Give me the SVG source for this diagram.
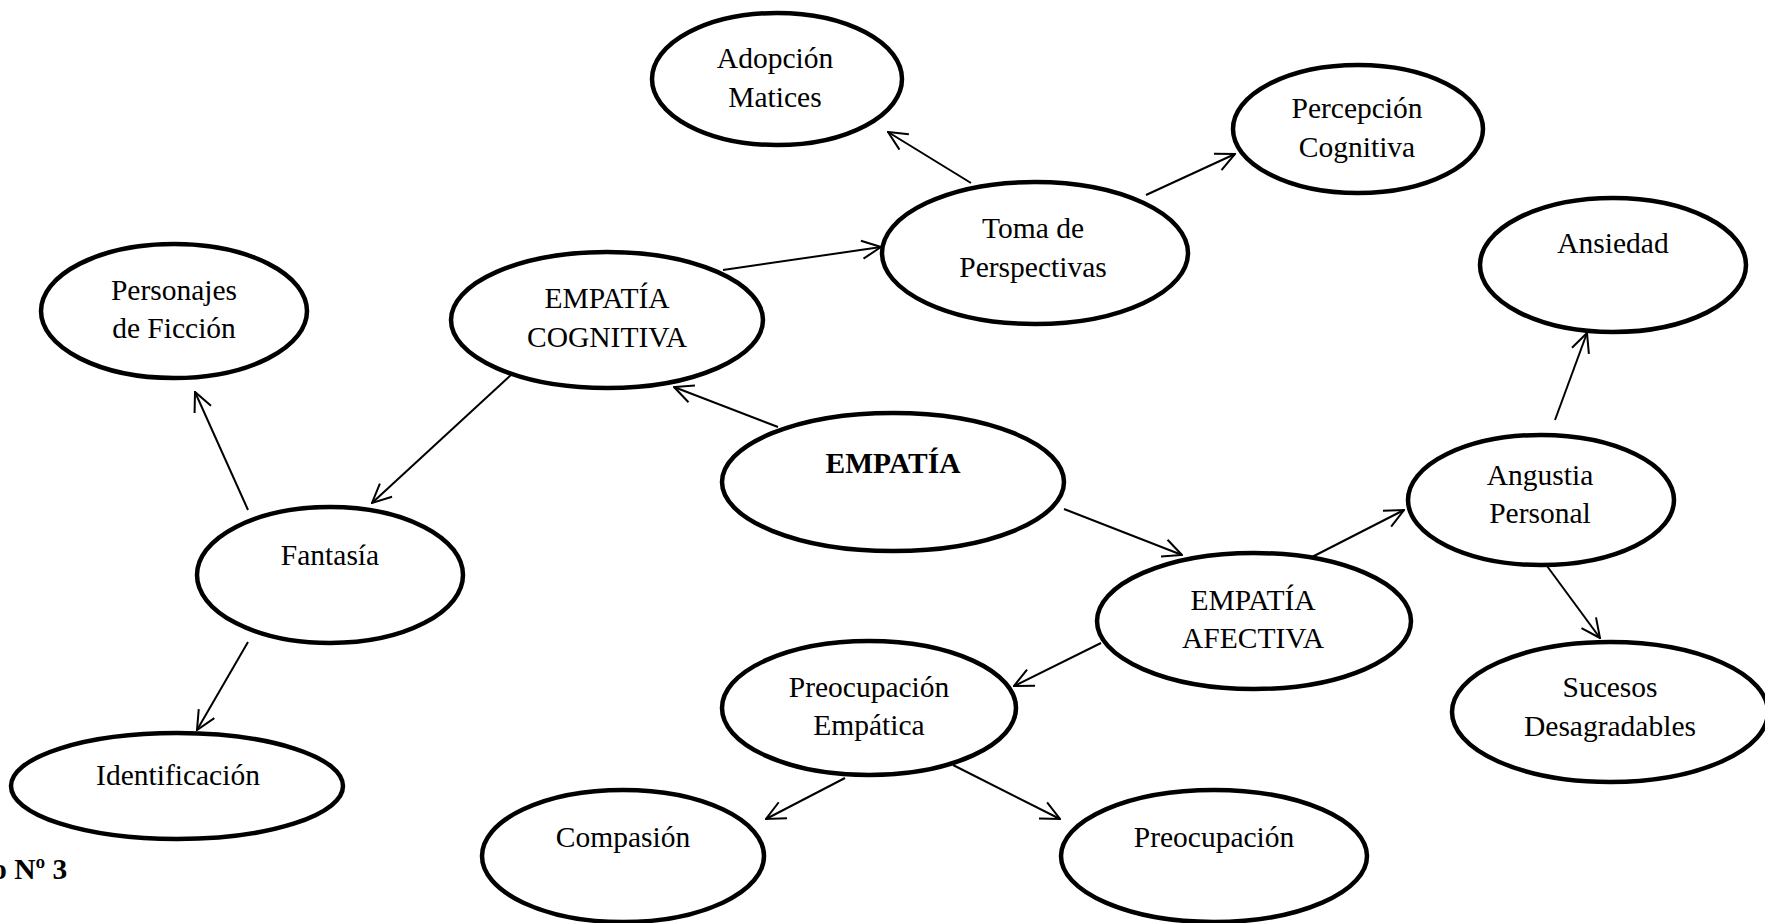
<svg xmlns="http://www.w3.org/2000/svg" width="1765" height="923" viewBox="0 0 1765 923">
<style>
.n ellipse{fill:#fff;stroke:#000;stroke-width:4.5}
text{font-family:"Liberation Serif","Times New Roman",serif;font-size:29.5px;fill:#000;text-anchor:middle}
.b{font-weight:bold}
#edges line{stroke:#000;stroke-width:2;marker-end:url(#ah)}
</style>
<defs>
<marker id="ah" viewBox="0 0 22 22" refX="21" refY="11" markerWidth="22" markerHeight="22" markerUnits="userSpaceOnUse" orient="auto">
<path d="M2,2 L21,11 L2,20" fill="none" stroke="#000" stroke-width="2"/>
</marker>
</defs>
<rect width="1765" height="923" fill="#fff"/>
<g id="edges">
<line x1="778" y1="427" x2="674" y2="387"/>
<line x1="1064" y1="509" x2="1182" y2="555"/>
<line x1="723" y1="270" x2="881" y2="247"/>
<line x1="511" y1="375" x2="372" y2="503"/>
<line x1="971" y1="183" x2="888" y2="132"/>
<line x1="1146" y1="195" x2="1235" y2="154"/>
<line x1="248" y1="510" x2="195" y2="392"/>
<line x1="248" y1="642" x2="197" y2="730"/>
<line x1="1312" y1="557" x2="1404" y2="510"/>
<line x1="1101" y1="643" x2="1014" y2="686"/>
<line x1="1555" y1="420" x2="1587" y2="333"/>
<line x1="1547" y1="566" x2="1600" y2="638"/>
<line x1="845" y1="778" x2="766" y2="819"/>
<line x1="953" y1="765" x2="1060" y2="819"/>
</g>
<g id="adopcion" class="n"><ellipse cx="777" cy="79" rx="125" ry="66"/><text x="775" y="68">Adopción</text><text x="775" y="107">Matices</text></g>
<g id="percepcion" class="n"><ellipse cx="1358" cy="129" rx="125" ry="64"/><text x="1357" y="118">Percepción</text><text x="1357" y="157">Cognitiva</text></g>
<g id="toma" class="n"><ellipse cx="1035" cy="253" rx="153" ry="71"/><text x="1033" y="238">Toma de</text><text x="1033" y="277">Perspectivas</text></g>
<g id="personajes" class="n"><ellipse cx="174" cy="311" rx="133" ry="67"/><text x="174" y="300">Personajes</text><text x="174" y="338">de Ficción</text></g>
<g id="cognitiva" class="n"><ellipse cx="607" cy="320" rx="156" ry="68"/><text x="607" y="308">EMPATÍA</text><text x="607" y="347">COGNITIVA</text></g>
<g id="ansiedad" class="n"><ellipse cx="1613" cy="265" rx="133" ry="67"/><text x="1613" y="253">Ansiedad</text></g>
<g id="empatia" class="n"><ellipse cx="893" cy="482" rx="171" ry="69"/><text class="b" x="893" y="473">EMPATÍA</text></g>
<g id="angustia" class="n"><ellipse cx="1541" cy="500" rx="133" ry="65"/><text x="1540" y="485">Angustia</text><text x="1540" y="523">Personal</text></g>
<g id="fantasia" class="n"><ellipse cx="330" cy="575" rx="133" ry="68"/><text x="330" y="565">Fantasía</text></g>
<g id="afectiva" class="n"><ellipse cx="1254" cy="621" rx="157" ry="68"/><text x="1253" y="610">EMPATÍA</text><text x="1253" y="648">AFECTIVA</text></g>
<g id="preocemp" class="n"><ellipse cx="869" cy="708" rx="147" ry="67"/><text x="869" y="697">Preocupación</text><text x="869" y="735">Empática</text></g>
<g id="sucesos" class="n"><ellipse cx="1610" cy="712" rx="158" ry="70"/><text x="1610" y="697">Sucesos</text><text x="1610" y="736">Desagradables</text></g>
<g id="identificacion" class="n"><ellipse cx="177" cy="786" rx="166" ry="53"/><text x="178" y="785">Identificación</text></g>
<g id="compasion" class="n"><ellipse cx="623" cy="856" rx="141" ry="66"/><text x="623" y="847">Compasión</text></g>
<g id="preocupacion" class="n"><ellipse cx="1214" cy="856" rx="153" ry="66"/><text x="1214" y="847">Preocupación</text></g>
<text class="b" x="-8" y="879" style="text-anchor:start">o Nº 3</text>
</svg>
